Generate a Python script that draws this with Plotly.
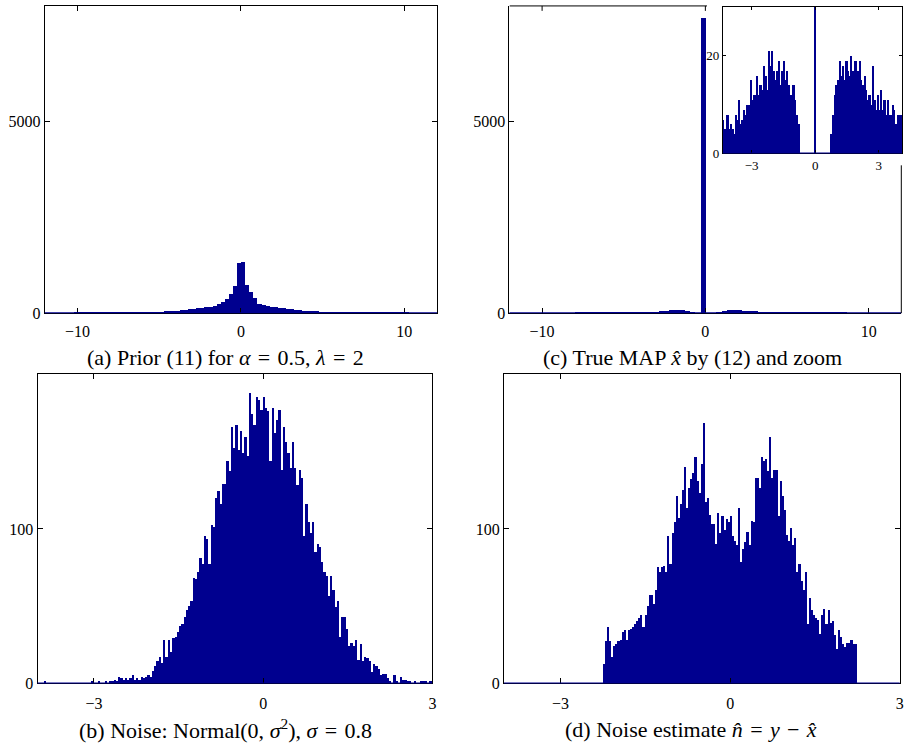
import plotly.graph_objects as go

# ---------------- data (bin counts) ----------------
# (a) prior samples: bins of width 0.25 on [-12, 12]
A_START, A_WIDTH = -12.0, 0.25
prior_neg = [3, 4, 4, 5, 5, 6, 6, 7, 8,
             8, 9, 10, 11, 11, 12, 13, 14, 15, 17,
             18, 19, 21, 23, 25, 27, 30, 33, 37, 45,
             52, 58, 65, 72, 82, 92, 100, 115, 128, 135,
             160, 164, 198, 241, 284, 370, 500, 714, 1320]
prior_pos = [1330, 740, 542, 396, 250, 215, 200, 170, 160, 140,
             125, 110, 100, 90, 80, 70, 62, 55, 48, 44,
             40, 36, 32, 29, 26, 24, 22, 20, 18, 16,
             15, 14, 13, 12, 11, 10, 9, 9, 8, 7,
             7, 6, 6, 5, 5, 4, 4, 3]

# (b) Gaussian noise samples: bins of width 0.04 starting at -3.9
B_START, B_WIDTH = -3.90, 0.04
noise_low = [1, 0, 0, 0, 0, 0, 0, 0, 0, 0, 0, 0, 0, 0, 0, 0, 0, 0, 0, 0, 0,
             1, 0, 0, 1, 0, 0, 1, 0, 1, 1, 2, 1, 4, 3, 2, 3, 2, 3, 5, 2,
             3, 2, 4, 3, 4, 5, 4]
noise_mid = [8, 11, 14, 17, 13, 28, 17, 28, 20, 29,
             30, 33, 37, 38, 43, 47, 50, 53, 68, 67,
             72, 81, 77, 95, 93, 77, 102, 101, 120, 124,
             116, 129, 129, 144, 137, 166, 152, 167, 151, 163,
             149, 159, 147, 188, 174, 167, 185, 183, 177]
noise_high = [185, 178, 176, 144, 178, 162, 170, 177, 138, 166,
              156, 149, 139, 156, 139, 128, 138, 133, 95, 116,
              104, 97, 104, 85, 90, 88, 78, 72, 69, 56,
              69, 60, 49, 53, 30, 43, 43, 35, 24, 26,
              24, 28, 15, 25, 14, 17, 16, 14, 7, 12,
              11, 9, 5, 6, 6, 3, 1, 0, 5, 1,
              0, 4, 2, 2, 1, 1, 0, 1, 0, 0,
              1, 1, 1, 0, 1]

# (c) MAP estimate: coarse bins of width 0.32 starting at -12.1
C_START, C_WIDTH = -12.1, 0.32
map_neg = [2, 2, 2, 3, 3, 3, 4, 4, 4, 5,
           5, 6, 6, 7, 8, 9, 10, 11, 12, 14,
           15, 17,
           18, 20, 24, 27, 32, 38, 45, 55, 65, 75,
           80, 78, 65, 20, 0]
map_zero = [7700]
map_pos = [0, 0, 40, 72, 80, 82, 78, 70, 62, 52,
           45, 40, 35, 30, 26, 23,
           20, 18, 16, 14, 12, 11, 10, 9, 8, 7,
           7, 6, 5, 5, 4, 4, 3, 3, 3, 2,
           2, 2]

# (c) zoom: fine bins of width 0.078 starting at -4.41
Z_START, Z_WIDTH = -4.41, 0.078
zoom_neg = [7, 5, 5, 8, 5, 6, 5, 4, 8, 7,
            11, 6, 7, 9, 8, 10, 10, 15, 11, 12,
            12, 16, 12, 14, 13, 18, 16, 13, 21, 18,
            21, 17, 15, 17, 19, 14, 17, 19, 15, 17,
            14, 12, 12, 14, 11, 8, 6]
zoom_mid = [0, 0, 0, 0, 0, 0, 0, 0, 0, 7700, 0, 0, 0, 0, 0, 0, 0, 0, 0]
zoom_pos = [4, 8, 12, 14, 15, 19, 16, 18, 15, 19,
            17, 16, 20, 17, 19, 19, 17, 19, 15, 14,
            16, 13, 11, 12, 10, 18, 11, 9, 12, 9,
            13, 9, 11, 8, 11, 8, 8, 10, 9, 6,
            8, 8, 8]

# (d) noise estimate: bins of width 0.0368 starting at -2.25
D_START, D_WIDTH = -2.25, 0.0368
resid = [12, 27, 36, 27, 17, 24, 25, 27, 28, 33,
         34, 28, 34, 35, 36, 38, 40, 42, 44, 36,
         44, 50, 57, 57, 51, 60, 75, 72, 75, 76,
         72, 95, 77, 97, 104, 121, 107, 116, 125, 140,
         113, 126, 132, 136, 146, 131, 123, 142, 168, 117,
         120, 109, 103, 103, 90, 110, 97, 108, 99, 106,
         104, 108,
         95, 92, 89, 113, 78, 87, 91, 98, 89, 105,
         104, 133, 133, 126, 146, 144, 145, 137, 159, 133,
         138, 138, 108, 131, 121, 112, 96, 92, 100, 89,
         94, 72, 77, 66, 60, 72, 38, 55, 47, 44,
         42, 41, 32, 44, 48, 38, 47, 39, 40, 31,
         22, 34, 30, 25, 23, 26, 26, 28, 25, 25]

# math-style spacing around relations and binary operators
EQ = "\u2004=\u2004"
MINUS = "\u2004−\u2004"
captions = ["(a) Prior (11) for <i>α</i>" + EQ + "0.5, <i>λ</i>" + EQ + "2",
            "(b) Noise: Normal(0, <i>σ</i><sup>2</sup>), <i>σ</i>" + EQ + "0.8",
            "(c) True MAP <i>x̂</i> by (12) and zoom",
            "(d) Noise estimate <i>n̂</i>" + EQ + "<i>y</i>" + MINUS + "<i>x̂</i>"]

# ---------------- styling ----------------
W, H = 906, 749
NAVY = "rgb(0,0,143)"
SERIF = "Liberation Serif"


def fx(p):
    return p / W


def fy(p):
    return 1 - p / H


def centers(start, width, counts):
    return [start + width * (i + 0.5) for i in range(len(counts))]


def hist(start, width, counts, xa, ya):
    return go.Bar(x=centers(start, width, counts), y=counts, width=width,
                  marker=dict(color=NAVY, line=dict(width=0)),
                  xaxis=xa, yaxis=ya, showlegend=False, hoverinfo="x+y")


fig = go.Figure()
fig.add_trace(hist(A_START, A_WIDTH, prior_neg + prior_pos, "x", "y"))
fig.add_trace(hist(C_START, C_WIDTH, map_neg + map_zero + map_pos, "x2", "y2"))
fig.add_trace(hist(B_START, B_WIDTH, noise_low + noise_mid + noise_high, "x3", "y3"))
fig.add_trace(hist(D_START, D_WIDTH, resid, "x4", "y4"))
fig.add_trace(hist(Z_START, Z_WIDTH, zoom_neg + zoom_mid + zoom_pos, "x5", "y5"))


def axis(domain, rng, tickvals, anchor, mirror="ticks", size=16, ticklen=5, standoff=None):
    d = dict(domain=domain, range=rng, tickvals=tickvals, ticks="inside",
             ticklen=ticklen, tickwidth=1, tickcolor="black", showline=True,
             linecolor="black", linewidth=1, mirror=mirror, showgrid=False,
             zeroline=False, anchor=anchor, fixedrange=True,
             tickfont=dict(family=SERIF, size=size, color="black"))
    if standoff is not None:
        d["ticklabelstandoff"] = standoff
    return d


top_row = [fy(317), fy(6)]
bot_row = [fy(691.7), fy(379)]

fig.update_layout(
    width=W, height=H, margin=dict(l=0, r=0, t=0, b=0),
    paper_bgcolor="white", plot_bgcolor="white", bargap=0,
    xaxis=axis([fx(45), fx(439)], [-12, 12], [-10, 0, 10], "y", standoff=4),
    yaxis=axis(top_row, [0, 8000], [0, 5000], "x"),
    xaxis2=axis([fx(511.7), fx(905.3)], [-12, 12], [-10, 0, 10], "y2", mirror=False, standoff=4),
    yaxis2=axis(top_row, [0, 8000], [0, 5000], "x2", mirror=False),
    xaxis3=axis([fx(37.7), fx(434.3)], [-4, 3], [-3, 0, 3], "y3", standoff=5),
    yaxis3=axis(bot_row, [0, 200], [0, 100], "x3"),
    xaxis4=axis([fx(506.3), fx(903.7)], [-4, 3], [-3, 0, 3], "y4", standoff=5),
    yaxis4=axis(bot_row, [0, 200], [0, 100], "x4"),
    xaxis5=axis([fx(726), fx(906)], [-4.36, 4.1], [-3, 0, 3], "y5", size=13, ticklen=3),
    yaxis5=axis([fy(155.3), fy(6.7)], [0, 30], [0, 20], "x5", size=13, ticklen=3),
)

shapes = []
# dark baseline along zero in every panel
for xa, ya in [("x", "y"), ("x2", "y2"), ("x3", "y3"), ("x4", "y4"), ("x5", "y5")]:
    shapes.append(dict(type="line", xref=f"{xa} domain", yref=ya, x0=0, x1=1,
                       y0=0, y1=0, line=dict(color=NAVY, width=2), layer="above"))
# frame of panel (c), left open where the zoom sits
black = dict(color="black", width=1)
shapes.append(dict(type="line", xref="x2", yref="y2 domain", x0=-12, x1=0.1,
                   y0=1, y1=1, line=black, layer="above"))
shapes.append(dict(type="line", xref="x2 domain", yref="y2", x0=1, x1=1,
                   y0=0, y1=3850, line=black, layer="above"))
for t in [-10, 0]:
    shapes.append(dict(type="line", xref="x2", yref="y2 domain", x0=t, x1=t,
                       y0=1, y1=1 - 5 / 311, line=black, layer="above"))
fig.update_layout(shapes=shapes)

cap_pos = [(226.5, 362), (226.7, 738), (695.5, 362), (694.5, 738)]
for text, (cx, cy) in zip(captions, cap_pos):
    fig.add_annotation(text=text, xref="paper", yref="paper", x=fx(cx), y=fy(cy),
                       xanchor="center", yanchor="middle", showarrow=False,
                       font=dict(family=SERIF, size=22, color="black"))

fig.write_html("out.html")
